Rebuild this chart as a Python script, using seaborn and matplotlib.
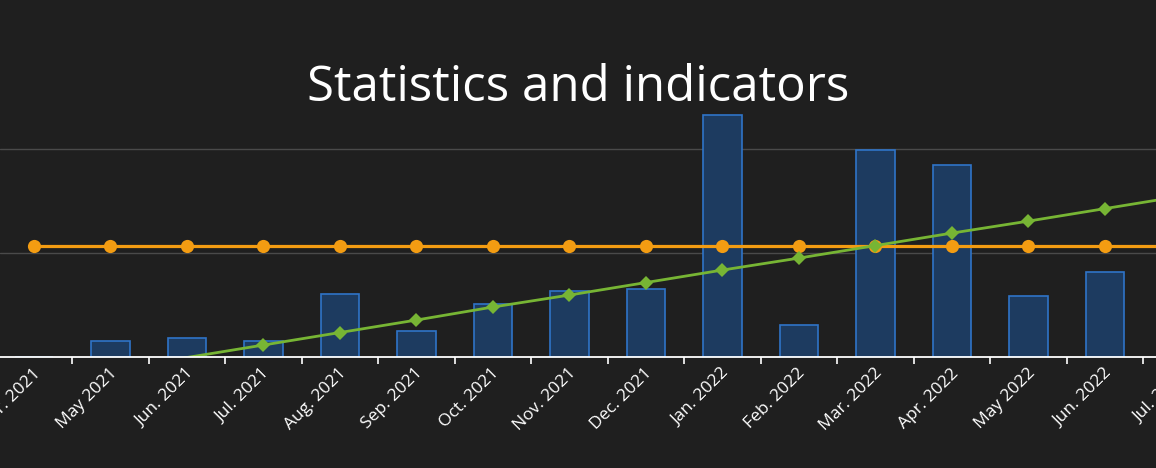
import numpy as np
import pandas as pd
import seaborn as sns
import matplotlib.pyplot as plt
import matplotlib.transforms as mtransforms

# --- data ---
months = ["Apr. 2021", "May 2021", "Jun. 2021", "Jul. 2021", "Aug. 2021", "Sep. 2021",
          "Oct. 2021", "Nov. 2021", "Dec. 2021", "Jan. 2022", "Feb. 2022", "Mar. 2022",
          "Apr. 2022", "May 2022", "Jun. 2022", "Jul. 2022"]
counts = [0, 1.55, 1.85, 1.55, 6.05, 2.5, 5.1, 6.35, 6.55, 23.2, 3.1, 19.9, 18.4, 5.85, 8.15, 9.0]
average = [10.67] * 16
trend = [-2.45, -1.25, -0.05, 1.15, 2.35, 3.55, 4.8, 5.95, 7.15, 8.35, 9.5, 10.7,
         11.9, 13.05, 14.25, 15.45]

BG = "#1f1f1f"
sns.set_theme(style="dark", rc={"figure.facecolor": BG, "axes.facecolor": BG})
plt.rcParams["font.family"] = ["Open Sans", "DejaVu Sans"]

df = pd.DataFrame({"month": months, "count": counts, "avg": average, "trend": trend,
                   "idx": np.arange(len(months))})

fig = plt.figure(figsize=(11.56, 4.68), dpi=100)
ax = fig.add_axes([0, 1 - 357 / 468, 1, (357 - 105) / 468])

sns.barplot(data=df, x="month", y="count", order=months, width=0.5,
            color="#1d3b60", edgecolor="#2f74c8", linewidth=1.2, saturation=1, ax=ax)

sns.lineplot(data=df, x="idx", y="avg", color="#f39c12", linewidth=2.3,
             marker="o", markersize=9.5, markeredgewidth=0, ax=ax)

vis = [i for i, v in enumerate(trend) if v >= 0]
sns.lineplot(data=df, x="idx", y="trend", color="#77b534", linewidth=2.0,
             marker="D", markersize=7, markeredgewidth=0, markevery=vis, ax=ax)

# grid + axes
ax.set_yticks([10, 20])
ax.yaxis.grid(True, color="#4a4a4a", linewidth=1)
ax.set_yticklabels([])
ax.tick_params(axis="y", length=0)
for s in ["left", "right", "top"]:
    ax.spines[s].set_visible(False)
ax.spines["bottom"].set_color("white")
ax.spines["bottom"].set_linewidth(1.3)

lab_kw = dict(rotation=45, ha="right", va="center", rotation_mode="anchor",
              color="white", fontsize=12.5)
ax.set_xticks(range(len(months)))
ax.set_xticklabels(months, **lab_kw)
ax.set_xticks(np.arange(len(months)) + 0.5, minor=True)
ax.tick_params(axis="x", which="major", length=0, pad=10)
ax.tick_params(axis="x", which="minor", length=5, width=1.2, color="white", bottom=True)
shift = mtransforms.ScaledTranslation(4 / 100, 0, fig.dpi_scale_trans)
for lab in ax.get_xticklabels():
    lab.set_transform(lab.get_transform() + shift)
ax.set_xlabel("")
ax.set_ylabel("")

# the last label sits past the right edge; matplotlib drops it, so draw it by hand
last_tr = ax.get_xaxis_transform() + mtransforms.ScaledTranslation(4 / 100, -10 / 72, fig.dpi_scale_trans)
ax.text(len(months) - 1, 0, months[-1], transform=last_tr, clip_on=False, **lab_kw)

# limits last: set_xticks expands the view
ax.set_xlim(-0.444, 14.667)
ax.set_ylim(0, 24.2)

fig.text(0.5, 1 - 88 / 468, "Statistics and indicators", ha="center", va="center",
         color="white", fontsize=35.5, fontweight="medium",
         family=["Open Sans", "DejaVu Sans"])

fig.savefig("out.png", dpi=100, facecolor=BG)
